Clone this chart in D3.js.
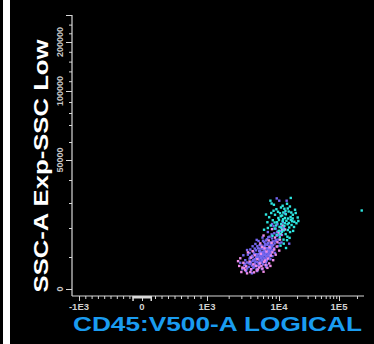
<!DOCTYPE html>
<html>
<head>
<meta charset="utf-8">
<script src="https://cdn.jsdelivr.net/npm/d3@7/dist/d3.min.js"></script>
<style>
  html, body { margin: 0; padding: 0; background: #000; }
  svg { display: block; }
</style>
</head>
<body>
<script>
// CD45 (V500-A) vs SSC-A events, three gated populations
const violetEvents = [
  [3100,6200],[3300,7400],[3500,5600],[3600,8300],[3800,6900],[3900,9500],[4000,7800],[4100,5900],[4200,10400],[4300,8800],
  [4400,6600],[4500,11200],[4600,9300],[4700,7500],[4800,12300],[4900,10100],[5000,8400],[5100,13000],[5200,11000],[5300,9200],
  [5400,7100],[5500,12100],[5600,10500],[5700,14000],[5800,8900],[5900,11700],[6000,13400],[6100,9800],[6200,15200],[6300,12600],
  [6400,10900],[6500,14300],[6600,8300],[6700,13100],[6800,16100],[6900,11500],[7000,14800],[7200,12400],[7400,17000],[7600,15000],
  [7800,13200],[8000,16400],[8300,14100],[8600,18200],[8900,15600],[9300,17300],[9800,16000],[10400,19000],[11200,17600],[12000,20100],
  [4400,9000],[4600,8000],[4800,9700],[5000,10800],[5100,7300],[5200,9600],[5300,12000],[5400,10300],[5500,8600],[5600,11400],
  [5700,9500],[5800,12900],[5900,10200],[6000,7700],[6100,11900],[6200,10600],[6300,13800],[6400,12000],[6500,9400],[6600,11300],
  [6700,10100],[6800,12900],[6900,14200],[7100,10700],[7300,13600],[7500,11800],[7700,14600],[7900,12200],[8200,15400],[8500,13000],
  [3400,9000],[3700,10800],[4000,12600],[4300,13700],[4700,14500],[5200,15500],[5900,16700],[4200,4900],[5000,5600],[5800,6200],
  [6600,6900],[7600,9300],[8800,11400],[9600,13700],[10200,14800],[2900,8200],[3200,10600],[3600,12400],[9000,19800],[7000,18600],
  [8400,20800],[11000,15000],[6800,7400],[9300,32000],[10100,31000],[13400,31000],[4900,15900],[12600,25800],[14800,14600],
  [4500,7000],[4700,8600],[4900,6300],[5100,9900],[5300,7800],[5500,11300],[5700,8200],[5900,9100],[6100,12800],[6300,9600],
  [6500,11600],[6700,8800],[6900,10500],[7100,12000],[7300,9800],[7500,13900],[7700,11100],[8000,13700],[8300,12300],[8700,14700],
  [9100,15900],[4000,9900],[4200,7300],[4400,11900],[4600,12900],[4800,11000],[5000,13700],[5200,8200],[5400,12900],[5600,9700],
  [5800,10800],[6000,11100],[6200,13100],[6400,14600],[6600,10400],[6800,9100],[7000,13000],[7200,11200],[7400,10300],[7600,12700],
  [7800,14200],[8100,10300],[3800,8000],[3600,6400],[3400,7900],[3900,11400],[4100,8300],[4300,10000],[5400,14100],[6000,15600],
  [6600,15700],[7100,16800],[7900,17800],[9400,18700],[10000,17600],[10700,20500],[8000,21600],[9500,21500],[11600,22300]
];
const pinkEvents = [
  [2800,7200],[3000,5300],[3300,6500],[3600,4900],[3900,8600],[4100,6200],[4500,5200],[4800,7200],[5100,6100],[5400,8000],
  [5700,7200],[6100,5400],[6400,8900],[6900,6600],[7300,8000],[7700,10500],[8300,9000],[9000,10800],[9500,15100],[10100,12200],
  [10800,17800],[8000,19600],[5500,14700],[4300,12000],[3700,11600],[6100,17400],[7200,15700],[8800,16700],[5000,9300],[6700,11900],
  [7400,13300],[8100,11600],[4600,10600],[5800,13500],[6200,8500],[3500,7100],[9900,18400],[11500,21000],[12600,19500],[2900,9600],
  [3200,8200],[3400,5900],[4000,5300],[4400,7700],[4900,5800],[5300,6700],[5900,6400],[6500,7500],[7000,9500],[7600,7200],
  [8600,12600],[9300,13600],[10400,16000],[11300,19400],[4100,9800],[5600,11100],[6300,13000],[7900,14900],[3100,6700],[2700,8700]
];
const cyanEvents = [
  [15700,32200],[7600,31000],[7900,29800],[8500,29300],[9700,26500],[8800,25300],[10400,25900],[13000,25500],[11800,26200],[10700,24700],
  [12600,24000],[11500,22800],[14200,23800],[15600,24400],[18000,22500],[19500,21900],[16200,21200],[14800,20200],[12300,20800],[10900,21600],
  [9400,22300],[8200,23100],[7300,24300],[6600,25400],[6900,22300],[7700,21000],[8700,19800],[9900,19000],[11200,18700],[12900,17900],
  [14000,19300],[15300,18600],[17200,19000],[10300,16800],[11900,16000],[13600,15800],[9300,17700],[8100,17300],[12000,14600],[10600,13900],
  [16500,22700],[13900,21500],[11700,23500],[10000,23200],[9200,27500],[10800,28200],[12300,27700],[14500,26600],[17000,25300],[19000,26000],
  [20500,24200],[8400,26900],[7000,20000],[6200,19400],[13100,13100],[15000,16600],[240000,27000],
  [11000,20000],[12500,21900],[13300,22900],[14600,22000],[15800,23300],[16900,23800],[12000,19200],[10200,20400],[9100,21000],[11300,25000],
  [12800,26800],[14000,27800],[15200,28600],[13600,29700],[11500,28900],[9800,24000],[8700,22200],[17800,20400],[10500,18000],[13800,17000],
  [16000,26200],[18500,27300],[7800,26000],[21000,22800]
];

// axis ticks
const cd45Ticks = [-1000, 0, 1000, 10000, 100000];
const cd45TickLabels = ["-1E3", "0", "1E3", "1E4", "1E5"];
const cd45Minor = [-900,-800,-700,-600,-500,-400,-300,-200, 200,300,400,500,600,700,800,900,
  2000,3000,4000,5000,6000,7000,8000,9000, 20000,30000,40000,50000,60000,70000,80000,90000, 200000];
const sscTicks = [0, 50000, 100000, 200000];
const sscTickLabels = ["0", "50000", "100000", "200000"];
const sscMinor = [10000,20000,30000,40000,60000,70000,80000,90000,120000,140000,160000,180000,220000,240000];
const sscTop = 262144;

const W = 374, H = 344;
const svg = d3.select("body").append("svg").attr("width", W).attr("height", H);
svg.append("rect").attr("width", W).attr("height", H).attr("fill", "#000");
svg.append("rect").attr("x", 3).attr("y", 0).attr("width", 7).attr("height", H).attr("fill", "#fff");

// SSC display scale (compressed toward the top)
const y = d3.scaleLinear()
  .domain([0,10000,20000,30000,40000,50000,60000,70000,80000,90000,100000,200000,262144])
  .range([289,257,228,203,180,160,142,125,113,102,91,42,15]);

// CD45 logical transform: linear within ±1E3, log beyond
const tf = v => Math.abs(v) <= 1000 ? v / 1000 : Math.sign(v) * (1 + Math.log10(Math.abs(v) / 1000));
const xT = d3.scaleLinear().domain([-1, 0, 1, 2, 3, tf(262144)]).range([79, 142, 207, 279, 339, 364]);
const x = v => xT(tf(v));

const axisX0 = 72, axisY0 = 296, axisColor = "#d8d8d8";

// y axis ticks
const gy = svg.append("g").attr("transform", `translate(${axisX0},0)`);
gy.call(d3.axisLeft(y).tickValues(sscTicks.concat([sscTop])).tickSize(6).tickSizeOuter(0).tickFormat(""));
gy.call(g => g.append("g").call(d3.axisLeft(y).tickValues(sscMinor).tickSize(3).tickSizeOuter(0).tickFormat("")));
gy.selectAll(".domain").remove();
gy.selectAll("line").attr("stroke", axisColor).attr("stroke-width", 1);

svg.append("g").selectAll("text").data(sscTicks).join("text")
  .attr("transform", d => `translate(63,${y(d)}) rotate(-90)`)
  .attr("text-anchor", "middle")
  .attr("font-family", "Liberation Sans, Arial, sans-serif")
  .attr("font-size", 9).attr("font-weight", "bold")
  .attr("fill", "#c8c8c8")
  .text((d, i) => sscTickLabels[i]);

// x axis ticks
const gx = svg.append("g").attr("transform", `translate(0,${axisY0})`);
gx.call(d3.axisBottom(xT).tickValues(cd45Ticks.map(tf)).tickSize(5).tickSizeOuter(0).tickFormat(""));
gx.call(g => g.append("g").call(d3.axisBottom(xT).tickValues(cd45Minor.map(tf)).tickSize(3).tickSizeOuter(0).tickFormat("")));
gx.selectAll(".domain").remove();
gx.selectAll("line").attr("stroke", axisColor).attr("stroke-width", 1);

// zero bracket on the CD45 axis
const zl = x(-150), zr = x(150);
svg.append("rect").attr("x", zl).attr("y", axisY0).attr("width", zr - zl).attr("height", 2.5).attr("fill", axisColor);
svg.append("line").attr("x1", zl + 0.5).attr("x2", zl + 0.5).attr("y1", axisY0).attr("y2", axisY0 + 5).attr("stroke", axisColor).attr("stroke-width", 1.5);
svg.append("line").attr("x1", zr - 0.5).attr("x2", zr - 0.5).attr("y1", axisY0).attr("y2", axisY0 + 5).attr("stroke", axisColor).attr("stroke-width", 1.5);

svg.append("g").selectAll("text").data(cd45Ticks).join("text")
  .attr("x", d => x(d)).attr("y", 309.5)
  .attr("text-anchor", "middle")
  .attr("font-family", "Liberation Sans, Arial, sans-serif")
  .attr("font-size", 9.5).attr("font-weight", "bold")
  .attr("fill", "#d0d0d0")
  .text((d, i) => cd45TickLabels[i]);

// axis lines
svg.append("line").attr("x1", axisX0).attr("x2", axisX0).attr("y1", 15).attr("y2", axisY0)
  .attr("stroke", axisColor).attr("stroke-width", 1.2);
svg.append("line").attr("x1", axisX0).attr("x2", 364).attr("y1", axisY0).attr("y2", axisY0)
  .attr("stroke", axisColor).attr("stroke-width", 1.2);

// events
const drawEvents = (data, color) => svg.append("g").selectAll("rect").data(data).join("rect")
  .attr("x", d => x(d[0]) - 1.2).attr("y", d => y(d[1]) - 1.2)
  .attr("width", 2.4).attr("height", 2.4).attr("fill", color);
drawEvents(violetEvents, "#7466f0");
drawEvents(pinkEvents, "#ee8ce8");
drawEvents(cyanEvents, "#2ee6e0");

// axis titles
svg.append("text")
  .attr("transform", "translate(48,166) rotate(-90)")
  .attr("text-anchor", "middle")
  .attr("font-family", "Liberation Sans, Arial, sans-serif")
  .attr("font-size", 21).attr("font-weight", "bold")
  .attr("fill", "#fff")
  .attr("textLength", 253).attr("lengthAdjust", "spacingAndGlyphs")
  .text("SSC-A Exp-SSC Low");

svg.append("text")
  .attr("x", 73).attr("y", 331)
  .attr("font-family", "Liberation Sans, Arial, sans-serif")
  .attr("font-size", 21).attr("font-weight", "bold")
  .attr("fill", "#1a9cf0")
  .attr("textLength", 289).attr("lengthAdjust", "spacingAndGlyphs")
  .text("CD45:V500-A LOGICAL");
</script>
</body>
</html>
